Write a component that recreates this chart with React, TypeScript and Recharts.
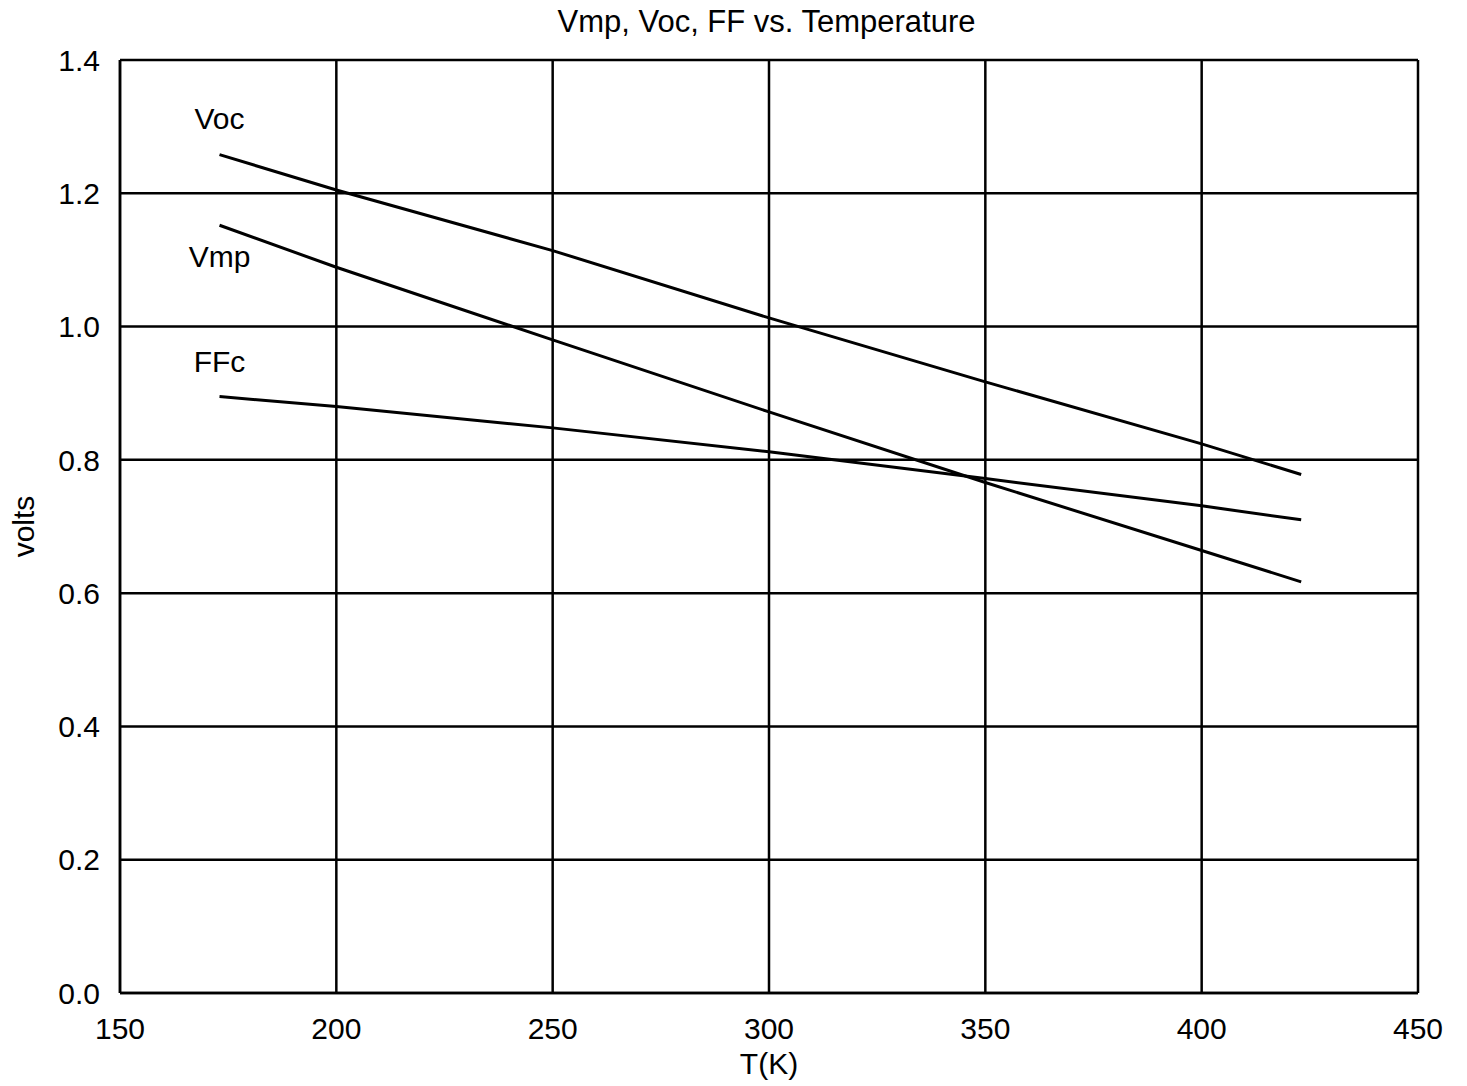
import React from 'react';
import { LineChart, Line, XAxis, YAxis, CartesianGrid, Label } from 'recharts';

const temps = [173, 200, 250, 300, 350, 400, 423];
const voc = [1.258, 1.205, 1.114, 1.013, 0.917, 0.824, 0.778];
const vmp = [1.152, 1.089, 0.98, 0.872, 0.766, 0.664, 0.617];
const ffc = [0.895, 0.88, 0.848, 0.812, 0.772, 0.731, 0.71];
const xTicks = [150, 200, 250, 300, 350, 400, 450];
const yTicks = [0, 0.2, 0.4, 0.6, 0.8, 1.0, 1.2, 1.4];
const seriesNames = ['Voc', 'Vmp', 'FFc'];

const data = temps.map((t, i) => ({ t, voc: voc[i], vmp: vmp[i], ffc: ffc[i] }));

const FONT = 'Arial, "Liberation Sans", Helvetica, sans-serif';
const FS = 30;

const makeLabel = (name: string, dy: number) => (props: any) => {
  const { x, y, index } = props;
  if (index !== 0) return null;
  return (
    <text x={x} y={y + dy} textAnchor="middle" fontFamily={FONT} fontSize={FS} fill="#000">
      {name}
    </text>
  );
};

export default function App() {
  return (
    <div style={{ position: 'absolute', left: 0, top: 0, width: 1467, height: 1086, background: '#fff' }}>
      <div style={{ position: 'absolute', left: 0, top: 4, width: 1467, textAlign: 'center', fontFamily: FONT, fontSize: 31, paddingLeft: 66, boxSizing: 'border-box', lineHeight: '36px' }}>
        Vmp, Voc, FF vs. Temperature
      </div>
      <LineChart
        width={1467}
        height={1086}
        data={data}
        margin={{ top: 60, right: 49, left: 0, bottom: 0 }}
        style={{ position: 'absolute', left: 0, top: 0 }}
      >
        <CartesianGrid stroke="#000" strokeWidth={2.5} strokeDasharray="" />
        <XAxis
          dataKey="t"
          type="number"
          domain={[150, 450]}
          ticks={xTicks}
          interval={0}
          height={93}
          tickLine={false}
          tickSize={0}
          tickMargin={25}
          axisLine={{ stroke: '#000', strokeWidth: 2.5 }}
          tick={{ fill: '#000', fontSize: FS, fontFamily: FONT }}
        >
          <Label value="T(K)" position="insideBottom" offset={12} fill="#000" fontSize={FS} fontFamily={FONT} />
        </XAxis>
        <YAxis
          type="number"
          domain={[0, 1.4]}
          ticks={yTicks}
          interval={0}
          width={120}
          tickLine={false}
          tickSize={0}
          tickMargin={20}
          tickFormatter={(v: number) => v.toFixed(1)}
          axisLine={{ stroke: '#000', strokeWidth: 2.5 }}
          tick={{ fill: '#000', fontSize: FS, fontFamily: FONT }}
        >
          <Label value="volts" angle={-90} position="insideLeft" offset={23} fill="#000" fontSize={FS} fontFamily={FONT} style={{ textAnchor: 'middle' }} />
        </YAxis>
        <Line dataKey="voc" name={seriesNames[0]} stroke="#000" strokeWidth={3} dot={false} isAnimationActive={false} type="linear" label={makeLabel(seriesNames[0], -26)} />
        <Line dataKey="vmp" name={seriesNames[1]} stroke="#000" strokeWidth={3} dot={false} isAnimationActive={false} type="linear" label={makeLabel(seriesNames[1], 42)} />
        <Line dataKey="ffc" name={seriesNames[2]} stroke="#000" strokeWidth={3} dot={false} isAnimationActive={false} type="linear" label={makeLabel(seriesNames[2], -25)} />
      </LineChart>
    </div>
  );
}
